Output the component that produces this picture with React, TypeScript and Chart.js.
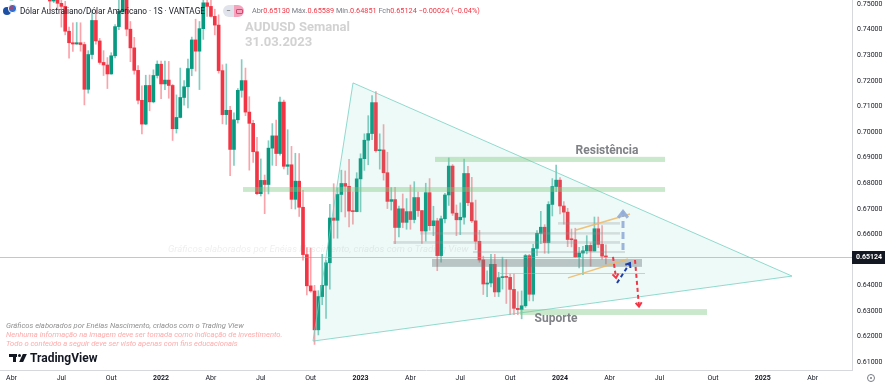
import React, { useEffect, useRef, useState } from 'react';
import { Chart, registerables } from 'chart.js';
Chart.register(...registerables);

// ---------- DATA ----------
const firstWeek = '2021-03-15'; // weekly candles, one per week from this Monday
const opens = [
  0.7755, 0.7728, 0.7640, 0.7620, 0.7622, 0.7739, 0.7733, 0.7715, 0.7838, 0.7752, 0.7744, 0.7706, 0.7748, 0.7707, 0.7512, 0.7585,
  0.7503, 0.7491, 0.7394, 0.7349, 0.7344, 0.7349, 0.7342, 0.7167, 0.7303, 0.7436, 0.7356, 0.7272, 0.7262, 0.7227, 0.7298, 0.7412,
  0.7472, 0.7522, 0.7402, 0.7329, 0.7241, 0.7124, 0.7031, 0.7182, 0.7118, 0.7221, 0.7265, 0.7188, 0.7203, 0.7182, 0.7013, 0.7057,
  0.7135, 0.7177, 0.7248, 0.7360, 0.7316, 0.7404, 0.7505, 0.7491, 0.7452, 0.7418, 0.7240, 0.7068, 0.7085, 0.6932, 0.7048, 0.7163,
  0.7201, 0.7078, 0.7034, 0.6923, 0.6759, 0.6811, 0.6795, 0.6937, 0.6985, 0.6916, 0.7117, 0.6866, 0.6872, 0.6737, 0.6808, 0.6706,
  0.6521, 0.6399, 0.6379, 0.6227, 0.6357, 0.6401, 0.6489, 0.6664, 0.6655, 0.6756, 0.6799, 0.6788, 0.6691, 0.6689, 0.6817, 0.6896,
  0.6968, 0.6994, 0.7115, 0.6927, 0.6930, 0.6841, 0.6729, 0.6736, 0.6627, 0.6700, 0.6647, 0.6689, 0.6658, 0.6744, 0.6693, 0.6613,
  0.6763, 0.6634, 0.6653, 0.6517, 0.6661, 0.6754, 0.6867, 0.6683, 0.6657, 0.6667, 0.6838, 0.6724, 0.6653, 0.6573, 0.6500, 0.6406,
  0.6410, 0.6483, 0.6375, 0.6431, 0.6435, 0.6432, 0.6385, 0.6311, 0.6306, 0.6321, 0.6517, 0.6366, 0.6545, 0.6604, 0.6628, 0.6568,
  0.6717, 0.6787, 0.6812, 0.6711, 0.6687, 0.6580, 0.6579, 0.6512, 0.6527, 0.6536, 0.6557, 0.6535, 0.6622, 0.6561, 0.6513,
];
const highs = [
  0.7849, 0.7731, 0.7654, 0.7665, 0.7750, 0.7818, 0.7817, 0.7842, 0.7891, 0.7814, 0.7782, 0.7775, 0.7776, 0.7718, 0.7617, 0.7599,
  0.7600, 0.7511, 0.7410, 0.7427, 0.7428, 0.7427, 0.7351, 0.7318, 0.7478, 0.7478, 0.7366, 0.7318, 0.7291, 0.7310, 0.7420, 0.7546,
  0.7556, 0.7536, 0.7432, 0.7370, 0.7260, 0.7181, 0.7222, 0.7223, 0.7243, 0.7278, 0.7277, 0.7277, 0.7276, 0.7186, 0.7145, 0.7250,
  0.7201, 0.7285, 0.7371, 0.7441, 0.7432, 0.7540, 0.7540, 0.7661, 0.7480, 0.7458, 0.7263, 0.7266, 0.7100, 0.7075, 0.7170, 0.7283,
  0.7250, 0.7138, 0.7046, 0.6979, 0.6895, 0.6832, 0.6966, 0.7033, 0.7047, 0.7137, 0.7125, 0.7009, 0.6944, 0.6917, 0.6916, 0.6772,
  0.6548, 0.6547, 0.6401, 0.6380, 0.6522, 0.6499, 0.6717, 0.6798, 0.6782, 0.6851, 0.6848, 0.6893, 0.6765, 0.6841, 0.6915, 0.6993,
  0.7064, 0.7142, 0.7158, 0.6993, 0.7029, 0.6921, 0.6783, 0.6784, 0.6711, 0.6758, 0.6740, 0.6793, 0.6806, 0.6765, 0.6694, 0.6800,
  0.6818, 0.6710, 0.6663, 0.6672, 0.6760, 0.6899, 0.6873, 0.6715, 0.6723, 0.6894, 0.6866, 0.6823, 0.6734, 0.6616, 0.6515, 0.6458,
  0.6522, 0.6522, 0.6452, 0.6511, 0.6501, 0.6445, 0.6445, 0.6376, 0.6379, 0.6522, 0.6522, 0.6561, 0.6615, 0.6690, 0.6638, 0.6728,
  0.6818, 0.6871, 0.6822, 0.6728, 0.6702, 0.6621, 0.6624, 0.6549, 0.6553, 0.6595, 0.6567, 0.6668, 0.6668, 0.6634, 0.6559,
];
const lows = [
  0.7700, 0.7563, 0.7531, 0.7586, 0.7610, 0.7693, 0.7676, 0.7688, 0.7677, 0.7693, 0.7674, 0.7645, 0.7691, 0.7477, 0.7506, 0.7478,
  0.7410, 0.7380, 0.7289, 0.7315, 0.7343, 0.7316, 0.7106, 0.7152, 0.7286, 0.7343, 0.7265, 0.7221, 0.7170, 0.7226, 0.7290, 0.7400,
  0.7462, 0.7376, 0.7275, 0.7226, 0.7110, 0.6993, 0.7029, 0.7083, 0.7114, 0.7211, 0.7130, 0.7166, 0.7132, 0.6967, 0.6996, 0.7055,
  0.7105, 0.7094, 0.7220, 0.7238, 0.7166, 0.7362, 0.7452, 0.7450, 0.7380, 0.7230, 0.7032, 0.7030, 0.6829, 0.6870, 0.7035, 0.7136,
  0.7064, 0.6851, 0.6881, 0.6755, 0.6750, 0.6681, 0.6758, 0.6870, 0.6869, 0.6910, 0.6856, 0.6834, 0.6700, 0.6699, 0.6670, 0.6499,
  0.6363, 0.6374, 0.6170, 0.6207, 0.6325, 0.6272, 0.6386, 0.6585, 0.6585, 0.6688, 0.6668, 0.6629, 0.6640, 0.6688, 0.6688, 0.6850,
  0.6872, 0.6970, 0.6921, 0.6855, 0.6812, 0.6701, 0.6695, 0.6564, 0.6590, 0.6626, 0.6620, 0.6620, 0.6645, 0.6670, 0.6565, 0.6574,
  0.6616, 0.6595, 0.6458, 0.6491, 0.6645, 0.6713, 0.6674, 0.6595, 0.6599, 0.6640, 0.6712, 0.6646, 0.6540, 0.6491, 0.6365, 0.6357,
  0.6395, 0.6357, 0.6357, 0.6386, 0.6330, 0.6286, 0.6286, 0.6286, 0.6270, 0.6315, 0.6340, 0.6340, 0.6517, 0.6564, 0.6526, 0.6526,
  0.6672, 0.6767, 0.6680, 0.6640, 0.6552, 0.6551, 0.6510, 0.6469, 0.6443, 0.6524, 0.6476, 0.6535, 0.6548, 0.6503, 0.6485,
];
const closes = [
  0.7728, 0.7640, 0.7620, 0.7622, 0.7739, 0.7733, 0.7715, 0.7838, 0.7752, 0.7744, 0.7706, 0.7748, 0.7707, 0.7512, 0.7585, 0.7503,
  0.7491, 0.7394, 0.7349, 0.7344, 0.7349, 0.7342, 0.7167, 0.7303, 0.7436, 0.7356, 0.7272, 0.7262, 0.7227, 0.7298, 0.7412, 0.7472,
  0.7522, 0.7402, 0.7329, 0.7241, 0.7124, 0.7031, 0.7182, 0.7118, 0.7221, 0.7265, 0.7188, 0.7203, 0.7182, 0.7013, 0.7057, 0.7135,
  0.7177, 0.7248, 0.7360, 0.7316, 0.7404, 0.7505, 0.7491, 0.7452, 0.7418, 0.7240, 0.7068, 0.7085, 0.6932, 0.7048, 0.7163, 0.7201,
  0.7078, 0.7034, 0.6923, 0.6759, 0.6811, 0.6795, 0.6937, 0.6985, 0.6916, 0.7117, 0.6866, 0.6872, 0.6737, 0.6808, 0.6706, 0.6521,
  0.6399, 0.6379, 0.6227, 0.6357, 0.6401, 0.6489, 0.6664, 0.6655, 0.6756, 0.6799, 0.6788, 0.6691, 0.6689, 0.6817, 0.6896, 0.6968,
  0.6994, 0.7115, 0.6927, 0.6930, 0.6841, 0.6729, 0.6736, 0.6627, 0.6700, 0.6647, 0.6689, 0.6658, 0.6744, 0.6693, 0.6613, 0.6763,
  0.6634, 0.6653, 0.6517, 0.6661, 0.6754, 0.6867, 0.6683, 0.6657, 0.6667, 0.6838, 0.6724, 0.6653, 0.6573, 0.6500, 0.6406, 0.6410,
  0.6483, 0.6375, 0.6431, 0.6435, 0.6432, 0.6385, 0.6311, 0.6306, 0.6321, 0.6517, 0.6366, 0.6545, 0.6604, 0.6628, 0.6568, 0.6717,
  0.6787, 0.6812, 0.6711, 0.6687, 0.6580, 0.6579, 0.6512, 0.6527, 0.6536, 0.6557, 0.6535, 0.6622, 0.6561, 0.6515, 0.6512,
];
const lastPrice = 0.65124;

// time axis labels sit on the first weekly bar of each quarter
const xTickDates = [
  '2021-04-05', '2021-07-05', '2021-10-04', '2022-01-03', '2022-04-04', '2022-07-04', '2022-10-03', '2023-01-02',
  '2023-04-03', '2023-07-03', '2023-10-02', '2024-01-01', '2024-04-01', '2024-07-01', '2024-10-07', '2025-01-06', '2025-04-07',
];
const xTickLabels = ['Abr', 'Jul', 'Out', '2022', 'Abr', 'Jul', 'Out', '2023', 'Abr', 'Jul', 'Out', '2024', 'Abr', 'Jul', 'Out', '2025', 'Abr'];
const priceTicks = [0.61, 0.62, 0.63, 0.64, 0.66, 0.67, 0.68, 0.69, 0.70, 0.71, 0.72, 0.73, 0.74, 0.75];

// drawings, in (fractional year, price)
const triangleVertices = [[2022.965, 0.7192], [2025.16, 0.6437], [2022.765, 0.6183]];
const greenZones = [
  [2023.375, 2024.525, 0.6903, 0.6883],
  [2022.415, 2024.525, 0.6785, 0.6766],
  [2023.80, 2024.735, 0.6308, 0.6285],
];
const grayLines = [
  [2023.99, 2024.30, 0.6648, 0.6638],
  [2023.30, 2024.30, 0.6609, 0.6599],
  [2023.165, 2024.30, 0.6574, 0.6563],
  [2023.565, 2024.325, 0.6535, 0.6527],
];
const grayZone = [2023.36, 2024.41, 0.6504, 0.6473];
const thinGreenLine = [2023.70, 2024.425, 0.6449];
const channelLines = [
  [2024.08, 0.6617, 2024.35, 0.6680],
  [2024.04, 0.6430, 2024.34, 0.6504],
];
const upArrow = [2024.315, 0.6539, 2024.315, 0.6690];
const redShortArrow = [2024.265, 0.6512, 2024.28, 0.6430];
const blueArrow = [2024.285, 0.6410, 2024.35, 0.6488];
const redLongArrow = [2024.375, 0.6500, 2024.395, 0.6318];
const labelResistencia = [2024.235, 0.6924];
const labelSuporte = [2023.98, 0.6268];

const X_MIN = 2021.2;
const X_MAX = 2025.46;
const Y_MIN = 0.607;
const Y_MAX = 0.7516;

function fracYear(d: Date) {
  const y = d.getUTCFullYear();
  const a = Date.UTC(y, 0, 1);
  const b = Date.UTC(y + 1, 0, 1);
  return y + (d.getTime() - a) / (b - a);
}
function weekT(i: number) {
  const d = new Date(firstWeek + 'T00:00:00Z');
  d.setUTCDate(d.getUTCDate() + 7 * i);
  return fracYear(d);
}

const UP = '#089981';
const DOWN = '#f23645';

function drawArrow(ctx: CanvasRenderingContext2D, x0: number, y0: number, x1: number, y1: number, color: string, width: number, dash: number[], head: number) {
  ctx.save();
  ctx.strokeStyle = color;
  ctx.lineWidth = width;
  ctx.lineCap = 'butt';
  ctx.setLineDash(dash);
  ctx.beginPath();
  ctx.moveTo(x0, y0);
  ctx.lineTo(x1, y1);
  ctx.stroke();
  ctx.setLineDash([]);
  const a = Math.atan2(y1 - y0, x1 - x0);
  ctx.lineJoin = 'miter';
  ctx.beginPath();
  ctx.moveTo(x1 - head * Math.cos(a - 0.65), y1 - head * Math.sin(a - 0.65));
  ctx.lineTo(x1, y1);
  ctx.lineTo(x1 - head * Math.cos(a + 0.65), y1 - head * Math.sin(a + 0.65));
  ctx.stroke();
  ctx.restore();
}

const overlayPlugin = {
  id: 'overlay',
  afterDatasetsDraw(chart: any) {
    const { ctx, chartArea } = chart;
    const xs = chart.scales.x;
    const ys = chart.scales.y;
    const X = (t: number) => xs.getPixelForValue(t);
    const Y = (p: number) => ys.getPixelForValue(p);
    ctx.save();
    ctx.beginPath();
    ctx.rect(chartArea.left, chartArea.top, chartArea.right - chartArea.left, chartArea.bottom - chartArea.top);
    ctx.clip();

    // current price line
    ctx.strokeStyle = 'rgba(150,152,160,0.55)';
    ctx.lineWidth = 1;
    ctx.beginPath();
    const py = Math.round(Y(lastPrice)) + 0.5;
    ctx.moveTo(chartArea.left, py);
    ctx.lineTo(chartArea.right, py);
    ctx.stroke();

    // triangle
    ctx.beginPath();
    triangleVertices.forEach(([t, p], i) => (i ? ctx.lineTo(X(t), Y(p)) : ctx.moveTo(X(t), Y(p))));
    ctx.closePath();
    ctx.fillStyle = 'rgba(100,210,190,0.11)';
    ctx.fill();
    ctx.strokeStyle = 'rgba(110,205,190,0.75)';
    ctx.lineWidth = 1;
    ctx.stroke();

    // green zones
    ctx.fillStyle = 'rgba(129,199,132,0.42)';
    greenZones.forEach(([t0, t1, p0, p1]) => {
      ctx.fillRect(X(t0), Y(p0), X(t1) - X(t0), Y(p1) - Y(p0));
    });
    // thin green line
    ctx.strokeStyle = 'rgba(129,199,132,0.55)';
    ctx.beginPath();
    ctx.moveTo(X(thinGreenLine[0]), Math.round(Y(thinGreenLine[2])) + 0.5);
    ctx.lineTo(X(thinGreenLine[1]), Math.round(Y(thinGreenLine[2])) + 0.5);
    ctx.stroke();

    // gray lines and zone
    ctx.fillStyle = 'rgba(140,150,150,0.28)';
    grayLines.forEach(([t0, t1, p0, p1]) => {
      ctx.fillRect(X(t0), Y(p0), X(t1) - X(t0), Y(p1) - Y(p0));
    });
    ctx.fillStyle = 'rgba(110,125,125,0.42)';
    ctx.fillRect(X(grayZone[0]), Y(grayZone[2]), X(grayZone[1]) - X(grayZone[0]), Y(grayZone[3]) - Y(grayZone[2]));

    // channel lines
    ctx.strokeStyle = 'rgba(240,185,100,0.85)';
    ctx.lineWidth = 1.5;
    channelLines.forEach(([t0, p0, t1, p1]) => {
      ctx.beginPath();
      ctx.moveTo(X(t0), Y(p0));
      ctx.lineTo(X(t1), Y(p1));
      ctx.stroke();
    });

    // arrows
    drawArrow(ctx, X(upArrow[0]), Y(upArrow[1]), X(upArrow[2]), Y(upArrow[3]), 'rgba(145,172,215,0.9)', 3, [7, 4], 8);
    drawArrow(ctx, X(redShortArrow[0]), Y(redShortArrow[1]), X(redShortArrow[2]), Y(redShortArrow[3]), '#f23645', 2, [4, 3], 5);
    drawArrow(ctx, X(blueArrow[0]), Y(blueArrow[1]), X(blueArrow[2]), Y(blueArrow[3]), '#1f3fa8', 2, [4, 3], 5);
    drawArrow(ctx, X(redLongArrow[0]), Y(redLongArrow[1]), X(redLongArrow[2]), Y(redLongArrow[3]), '#f23645', 2, [4, 3], 5);

    // labels
    ctx.fillStyle = '#7f8186';
    ctx.font = 'bold 12px Roboto, "Noto Sans", sans-serif';
    ctx.textAlign = 'center';
    ctx.textBaseline = 'middle';
    ctx.fillText('Resistência', X(labelResistencia[0]), Y(labelResistencia[1]));
    ctx.fillText('Suporte', X(labelSuporte[0]), Y(labelSuporte[1]));
    ctx.restore();

    // price axis labels
    ctx.save();
    ctx.fillStyle = '#131722';
    ctx.font = '7px Roboto, sans-serif';
    ctx.textAlign = 'left';
    ctx.textBaseline = 'middle';
    priceTicks.forEach((v) => {
      ctx.fillText(v.toFixed(5), chartArea.right + 5, Y(v));
    });
    // price tag on the axis
    const tagY = Y(lastPrice);
    ctx.fillStyle = '#131722';
    ctx.fillRect(chartArea.right, Math.round(tagY) - 6, 33, 13);
    ctx.fillStyle = '#ffffff';
    ctx.font = 'bold 7px Roboto, sans-serif';
    ctx.fillText(lastPrice.toFixed(5), chartArea.right + 4, Math.round(tagY) + 0.5);
    ctx.restore();
  },
};

export default function App() {
  const ref = useRef<HTMLCanvasElement | null>(null);
  const [xLabels, setXLabels] = useState<{ x: number; y: number; text: string }[]>([]);
  useEffect(() => {
    document.body.style.margin = '0';
    const canvas = ref.current;
    if (!canvas) return;
    const ts = closes.map((_, i) => weekT(i));
    const colors = closes.map((c, i) => (c >= opens[i] ? UP : DOWN));
    const wickColors = closes.map((c, i) => (c >= opens[i] ? 'rgba(8,153,129,0.5)' : 'rgba(242,54,69,0.45)'));
    const chart = new Chart(canvas, {
      type: 'bar',
      data: {
        datasets: [
          {
            label: 'wicks',
            data: ts.map((t, i) => ({ x: t, y: [lows[i], highs[i]] })) as any,
            backgroundColor: wickColors,
            barThickness: 1,
            grouped: false,
            borderWidth: 0,
          } as any,
          {
            label: 'bodies',
            data: ts.map((t, i) => ({ x: t, y: [Math.min(opens[i], closes[i]), Math.max(opens[i], closes[i])] })) as any,
            backgroundColor: colors,
            barThickness: 3,
            minBarLength: 1,
            grouped: false,
            borderWidth: 0,
          } as any,
        ],
      },
      options: {
        animation: false,
        responsive: false,
        maintainAspectRatio: false,
        events: [],
        layout: { padding: 0 },
        plugins: { legend: { display: false }, tooltip: { enabled: false } },
        scales: {
          x: {
            type: 'linear',
            min: X_MIN,
            max: X_MAX,
            offset: false,
            grid: { display: false, drawTicks: false, offset: false },
            border: { display: true, color: '#d6d8de' },
            afterFit: (s: any) => {
              s.height = 17;
            },
            ticks: { display: false },
          },
          y: {
            type: 'linear',
            position: 'right',
            min: Y_MIN,
            max: Y_MAX,
            grid: { display: false, drawTicks: false },
            border: { display: true, color: '#d6d8de' },
            afterFit: (s: any) => {
              s.width = 34;
            },
            ticks: { display: false },
          },
        },
      } as any,
      plugins: [overlayPlugin],
    });
    const xs: any = chart.scales.x;
    setXLabels(
      xTickDates.map((d, i) => ({
        x: xs.getPixelForValue(fracYear(new Date(d + 'T00:00:00Z'))),
        y: chart.chartArea.bottom + 3,
        text: xTickLabels[i],
      })),
    );
    return () => chart.destroy();
  }, []);

  const font = 'Roboto, "Noto Sans", sans-serif';
  const lbl = { color: '#787b86' };
  const val = { color: '#f23645' };
  return (
    <div style={{ position: 'absolute', left: 0, top: 0, width: 886, height: 387, overflow: 'hidden', background: '#fff', fontFamily: font }}>
      <canvas ref={ref} width={886} height={387} style={{ position: 'absolute', left: 0, top: 0, width: 886, height: 387 }} />
      {/* watermark */}
      <div style={{ position: 'absolute', left: 168, top: 243, fontSize: 9.6, fontStyle: 'italic', color: 'rgba(120,120,120,0.13)', whiteSpace: 'nowrap' }}>
        Gráficos elaborados por Enéias Nascimento, criados com o Trading View
      </div>
      {/* symbol icon */}
      <div style={{ position: 'absolute', left: 3, top: 7, width: 8, height: 8, borderRadius: 4, background: '#1d4fa3' }} />
      <div style={{ position: 'absolute', left: 8, top: 4, width: 7, height: 7, borderRadius: 4, background: '#2f6fd0', border: '1px solid #fff' }}>
        <div style={{ position: 'absolute', left: 1, top: 1, width: 3, height: 3, borderRadius: 2, background: '#e03040' }} />
      </div>
      <div style={{ position: 'absolute', left: 20, top: 4, fontSize: 8.2, lineHeight: '14px', color: '#131722', whiteSpace: 'nowrap' }}>
        Dólar Australiano/Dólar Americano · 1S · VANTAGE
      </div>
      <div style={{ position: 'absolute', left: 223, top: 5, width: 11, height: 12, borderRadius: '6px 0 0 6px', background: '#e0e3eb', fontSize: 8, lineHeight: '12px', textAlign: 'center', color: '#555' }}>−</div>
      <div style={{ position: 'absolute', left: 234, top: 5, width: 10, height: 12, borderRadius: '0 6px 6px 0', background: '#f5a3bd' }}>
        <div style={{ position: 'absolute', left: 2, top: 4, width: 5, height: 3, border: '1px solid #d14a72', borderRadius: 1 }} />
      </div>
      <div style={{ position: 'absolute', left: 252, top: 5, fontSize: 7.3, lineHeight: '12px', whiteSpace: 'nowrap' }}>
        <span style={lbl}>Abr</span><span style={val}>0.65130</span>{' '}
        <span style={lbl}>Máx.</span><span style={val}>0.65589</span>{' '}
        <span style={lbl}>Mín.</span><span style={val}>0.64851</span>{' '}
        <span style={lbl}>Fch</span><span style={val}>0.65124</span>{' '}
        <span style={val}>−0.00024 (−0.04%)</span>
      </div>
      <div style={{ position: 'absolute', left: 245, top: 19, fontSize: 13, lineHeight: '15px', fontWeight: 'bold', color: '#d2d2d2', whiteSpace: 'nowrap' }}>
        AUDUSD Semanal<br />31.03.2023
      </div>
      {/* footer */}
      <div style={{ position: 'absolute', left: 6, top: 321, fontSize: 7.6, lineHeight: '9px', fontStyle: 'italic', color: '#8f8f8f', whiteSpace: 'nowrap' }}>
        Gráficos elaborados por Enéias Nascimento, criados com o Trading View
      </div>
      <div style={{ position: 'absolute', left: 6, top: 331, fontSize: 7.6, lineHeight: '8.5px', fontStyle: 'italic', color: '#ffaaaa', whiteSpace: 'nowrap' }}>
        Nenhuma informação na imagem deve ser tomada como indicação de investimento.<br />
        Todo o conteúdo a seguir deve ser visto apenas com fins educacionais
      </div>
      {/* TradingView logo */}
      <div style={{ position: 'absolute', left: 9, top: 354, width: 8, height: 3, background: '#131722' }} />
      <div style={{ position: 'absolute', left: 13, top: 354, width: 3, height: 8, background: '#131722' }} />
      <div style={{ position: 'absolute', left: 18, top: 354, width: 3, height: 3, borderRadius: 2, background: '#131722' }} />
      <div style={{ position: 'absolute', left: 21, top: 354, width: 4, height: 8, background: '#131722', transform: 'skewX(-25deg)' }} />
      <div style={{ position: 'absolute', left: 30, top: 351, fontSize: 12, lineHeight: '14px', fontWeight: 'bold', color: '#131722', whiteSpace: 'nowrap' }}>
        TradingView
      </div>
      {/* settings icon */}
      <div style={{ position: 'absolute', left: 867, top: 374, width: 6, height: 6, borderRadius: 4, border: '1px solid #787b86' }}>
        <div style={{ position: 'absolute', left: 2, top: 2, width: 2, height: 2, borderRadius: 1, background: '#787b86' }} />
      </div>
      {/* time axis labels */}
      {xLabels.map((l, i) => (
        <div
          key={i}
          style={{
            position: 'absolute',
            left: Math.max(0, l.x - 9),
            width: 18,
            top: l.y,
            textAlign: 'center',
            fontSize: 7,
            lineHeight: '11px',
            color: '#131722',
            fontWeight: /^\d{4}$/.test(l.text) ? 'bold' : 'normal',
          }}
        >
          {l.text}
        </div>
      ))}
    </div>
  );
}
